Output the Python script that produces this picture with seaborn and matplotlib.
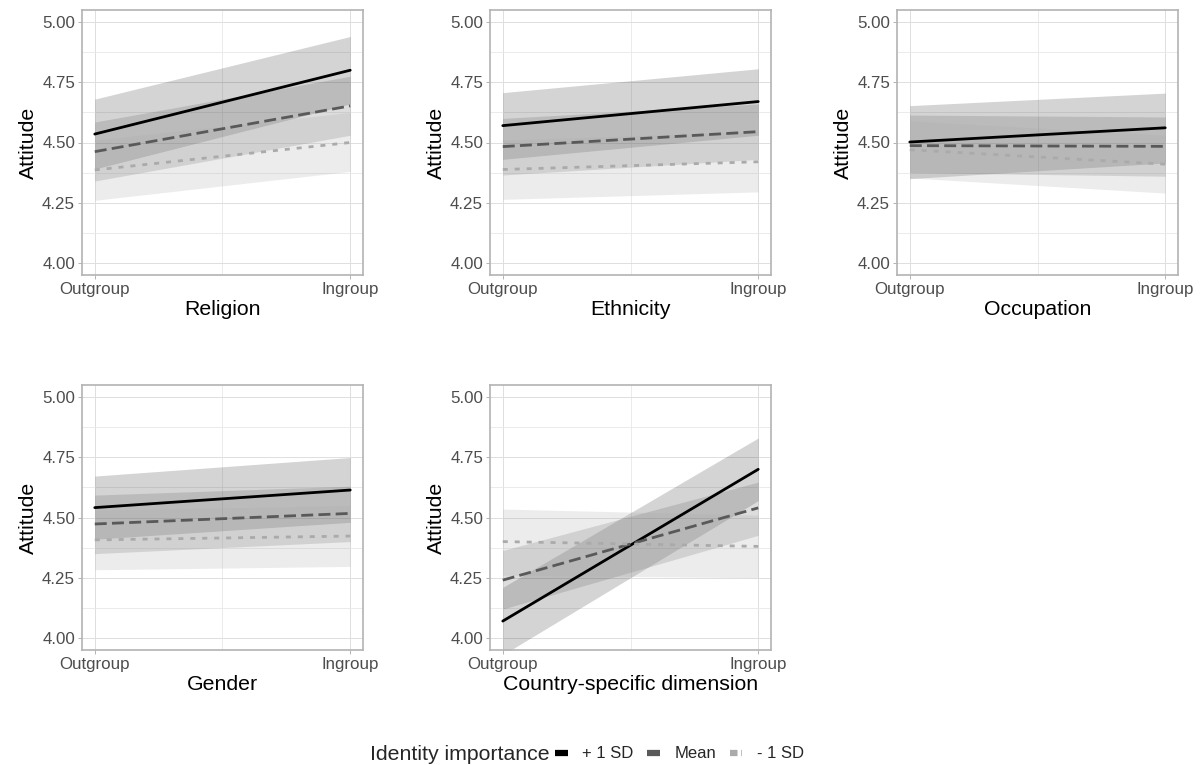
import matplotlib
matplotlib.use("Agg")
import matplotlib.pyplot as plt
import seaborn as sns
import pandas as pd

# Panels and levels
panels = ["Religion", "Ethnicity", "Occupation", "Gender", "Country-specific dimension"]
levels = ["+ 1 SD", "Mean", "- 1 SD"]
x_labels = ["Outgroup", "Ingroup"]

# estimates [outgroup, ingroup] per level, per panel
est_plus = [[4.535, 4.80], [4.57, 4.67], [4.502, 4.561], [4.541, 4.614], [4.07, 4.70]]
est_mean = [[4.462, 4.652], [4.483, 4.545], [4.487, 4.484], [4.473, 4.517], [4.24, 4.54]]
est_minus = [[4.386, 4.50], [4.388, 4.42], [4.47, 4.41], [4.407, 4.423], [4.40, 4.38]]

# confidence bands [outgroup, ingroup]
lo_plus = [[4.39, 4.66], [4.43, 4.53], [4.35, 4.415], [4.41, 4.48], [3.93, 4.57]]
hi_plus = [[4.68, 4.94], [4.707, 4.806], [4.653, 4.705], [4.672, 4.749], [4.21, 4.83]]
lo_mean = [[4.34, 4.53], [4.365, 4.43], [4.375, 4.36], [4.35, 4.40], [4.12, 4.426]]
hi_mean = [[4.585, 4.775], [4.60, 4.66], [4.614, 4.606], [4.593, 4.63], [4.363, 4.647]]
lo_minus = [[4.26, 4.38], [4.264, 4.295], [4.353, 4.29], [4.283, 4.297], [4.26, 4.25]]
hi_minus = [[4.51, 4.625], [4.51, 4.545], [4.59, 4.53], [4.53, 4.55], [4.535, 4.51]]

y_ticks = [4.00, 4.25, 4.50, 4.75, 5.00]

line_colors = {"+ 1 SD": "#000000", "Mean": "#595959", "- 1 SD": "#aaaaaa"}
fill_alpha = {"+ 1 SD": 0.17, "Mean": 0.2, "- 1 SD": 0.22}
dash_styles = {"+ 1 SD": "", "Mean": (4.3, 1.9), "- 1 SD": (1.8, 2.5)}

sns.set_theme(style="whitegrid")
plt.rcParams["font.family"] = ["Liberation Sans", "DejaVu Sans"]

# long table for seaborn
rows = []
for p, name in enumerate(panels):
    for lev, est, lo, hi in zip(levels,
                                [est_plus, est_mean, est_minus],
                                [lo_plus, lo_mean, lo_minus],
                                [hi_plus, hi_mean, hi_minus]):
        for xi in range(2):
            rows.append({"panel": name, "level": lev, "x": xi,
                         "y": est[p][xi], "lo": lo[p][xi], "hi": hi[p][xi]})
df = pd.DataFrame(rows)

fig = plt.figure(figsize=(12.02, 7.65), dpi=100)
W, H = 1202, 765
boxes = [(82, 10), (490, 10), (897, 10), (82, 385), (490, 385)]
aw, ah = 281, 265

for name, (left, top) in zip(panels, boxes):
    ax = fig.add_axes([left / W, 1 - (top + ah) / H, aw / W, ah / H])
    sub = df[df["panel"] == name]
    for lev in levels:
        s = sub[sub["level"] == lev]
        ax.fill_between(s["x"], s["lo"], s["hi"], color=line_colors[lev],
                        alpha=fill_alpha[lev], linewidth=0, zorder=2)
    sns.lineplot(data=sub, x="x", y="y", hue="level", style="level",
                 palette=line_colors, dashes=dash_styles, hue_order=levels,
                 style_order=levels, linewidth=2.0, legend=False, ax=ax,
                 zorder=3)
    ax.set_xlim(-0.05, 1.05)
    ax.set_ylim(3.95, 5.05)
    ax.set_xticks([0, 1])
    ax.set_xticklabels(x_labels)
    ax.set_xticks([0.5], minor=True)
    ax.set_yticks(y_ticks)
    ax.set_yticklabels([f"{v:.2f}" for v in y_ticks])
    ax.set_yticks([4.125, 4.375, 4.625, 4.875], minor=True)
    ax.grid(which="major", color="#dedede", linewidth=0.7)
    ax.grid(which="minor", color="#e8e8e8", linewidth=0.6)
    ax.set_facecolor("white")
    for sp in ax.spines.values():
        sp.set_color("#b3b3b3")
        sp.set_linewidth(1.2)
    ax.tick_params(which="major", length=3, width=0.7, color="#b3b3b3",
                   labelsize=12.2, labelcolor="#4d4d4d", pad=2, bottom=True, left=True)
    ax.tick_params(which="minor", length=0)
    ax.set_xlabel(name, fontsize=15.3, color="black", labelpad=2)
    ax.set_ylabel("Attitude", fontsize=15.3, color="black", labelpad=3)

# legend
handles = [plt.Line2D([], [], color=line_colors[l], linewidth=4.5, solid_capstyle="butt",
                      dash_capstyle="butt",
                      linestyle="-" if l != "- 1 SD" else (0, (1.2, 0.6)))
           for l in levels]
fig.text(370 / W, 1 - 754 / H, "Identity importance", fontsize=15.3,
         va="center", ha="left")
fig.legend(handles, levels, loc="center left", bbox_to_anchor=(555 / W, 1 - 754 / H),
           ncol=3, frameon=False, handlelength=0.75, handletextpad=0.9,
           columnspacing=0.8, fontsize=12, borderaxespad=0, borderpad=0)

fig.savefig("out.png", dpi=100)
